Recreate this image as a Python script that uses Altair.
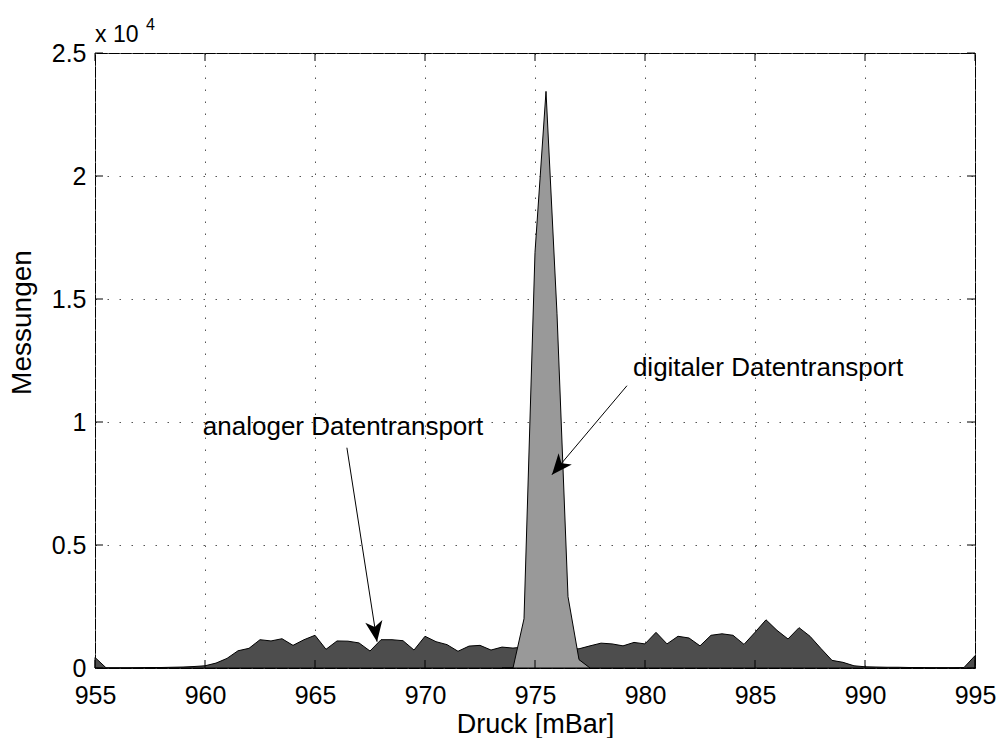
import altair as alt
import pandas as pd

FONT = "Liberation Sans"

# ---- data ----
analog_start = 955.0
analog_step = 0.5
analog_counts = [
    430, 10, 10, 10, 15, 20, 20, 30, 40, 60,          # 955.0 - 959.5
    90, 200, 390, 700, 800, 1150, 1100, 1190, 920, 1150,  # 960.0 - 964.5
    1330, 760, 1100, 1090, 1020, 690, 1150, 1150, 1110, 730,  # 965.0 - 969.5
    1290, 1070, 950, 680, 890, 920, 730, 850, 810, 850,   # 970.0 - 974.5
    850, 850, 800, 780, 780, 900, 1010, 980, 900, 1040,   # 975.0 - 979.5
    980, 1450, 980, 1290, 1220, 900, 1330, 1390, 1330, 960,  # 980.0 - 984.5
    1450, 1960, 1530, 1180, 1640, 1290, 790, 310, 230, 90,  # 985.0 - 989.5
    50, 40, 30, 30, 20, 20, 15, 15, 15, 20,             # 990.0 - 994.5
    500,                                                # 995.0
]
analog_pressure = [analog_start + analog_step * i for i in range(len(analog_counts))]

digital_pressure = [973.5, 974.0, 974.5, 975.0, 975.5, 976.0, 976.5, 977.0, 977.5]
digital_counts = [0, 0, 2000, 16900, 23440, 14400, 2900, 340, 0]

x_ticks = [955, 960, 965, 970, 975, 980, 985, 990, 995]
y_ticks = [0, 5000, 10000, 15000, 20000, 25000]

annot_labels = ["analoger Datentransport", "digitaler Datentransport"]
annot_text_x = [959.9, 979.45]
annot_text_y = [9480, 11880]
arrow_x1 = [966.45, 979.18]
arrow_y1 = [8955, 11475]
arrow_x2 = [967.82, 975.77]
arrow_y2 = [1070, 7858]
arrow_angle = [351, 40]

W, H = 880, 615
TICK = 8

df_analog = pd.DataFrame({"p": analog_pressure, "n": analog_counts})
df_digital = pd.DataFrame({"p": digital_pressure, "n": digital_counts})
df_annot = pd.DataFrame({
    "label": annot_labels, "tx": annot_text_x, "ty": annot_text_y,
    "x1": arrow_x1, "y1": arrow_y1, "x2": arrow_x2, "y2": arrow_y2,
    "ang": arrow_angle,
})
df_xt = pd.DataFrame({"v": x_ticks})
df_yt = pd.DataFrame({"v": y_ticks})
df_exp = pd.DataFrame({"t": ["x 10"], "e": ["4"]})

xscale = alt.Scale(domain=[955, 995], nice=False, zero=False)
yscale = alt.Scale(domain=[0, 25000], nice=False, zero=False)

grid_kw = dict(grid=True, gridColor="#555555", gridWidth=1, gridDash=[1.5, 10.5])

x_main = alt.Axis(
    values=x_ticks, title="Druck [mBar]", ticks=False, domain=False,
    labelFontSize=25, labelPadding=15, labelFlush=False, labelOverlap=False,
    labelColor="black", labelFont=FONT,
    titleFontSize=27, titleFontWeight="normal", titleColor="black", titleFont=FONT,
    titleY=64, titleBaseline="alphabetic", **grid_kw,
)
y_main = alt.Axis(
    values=y_ticks, labelExpr="datum.value / 10000", title="Messungen",
    ticks=False, domain=False, labelFontSize=25, labelPadding=9,
    labelFlush=False, labelOverlap=False, labelColor="black", labelFont=FONT,
    titleFontSize=28, titleFontWeight="normal", titleColor="black", titleFont=FONT,
    titleAngle=270, titleX=-73, titleY=269, titleAlign="center", titleBaseline="middle",
    **grid_kw,
)

dark = alt.Chart(df_analog).mark_area(
    fill="#4d4d4d", stroke="black", strokeWidth=1, interpolate="linear"
).encode(
    x=alt.X("p:Q", scale=xscale, axis=x_main),
    y=alt.Y("n:Q", scale=yscale, axis=y_main),
)

light = alt.Chart(df_digital).mark_area(
    fill="#999999", stroke="black", strokeWidth=1, interpolate="linear"
).encode(
    x=alt.X("p:Q", scale=xscale),
    y=alt.Y("n:Q", scale=yscale),
)

# inward tick marks on all four sides of the box
xt_bottom = alt.Chart(df_xt).mark_rule(color="black", strokeWidth=1).encode(
    x=alt.X("v:Q", scale=xscale), y=alt.value(H), y2=alt.value(H - TICK))
xt_top = alt.Chart(df_xt).mark_rule(color="black", strokeWidth=1).encode(
    x=alt.X("v:Q", scale=xscale), y=alt.value(0), y2=alt.value(TICK))
yt_left = alt.Chart(df_yt).mark_rule(color="black", strokeWidth=1).encode(
    y=alt.Y("v:Q", scale=yscale), x=alt.value(0), x2=alt.value(TICK))
yt_right = alt.Chart(df_yt).mark_rule(color="black", strokeWidth=1).encode(
    y=alt.Y("v:Q", scale=yscale), x=alt.value(W), x2=alt.value(W - TICK))

arrows = alt.Chart(df_annot).mark_rule(color="black", strokeWidth=1).encode(
    x=alt.X("x1:Q", scale=xscale),
    y=alt.Y("y1:Q", scale=yscale),
    x2="x2:Q", y2="y2:Q",
)

heads = alt.Chart(df_annot).mark_point(
    shape="M0,0 L-0.42,-1 L0,-0.72 L0.42,-1 Z", size=1700, filled=True,
    color="black", opacity=1, strokeWidth=0,
).encode(
    x=alt.X("x2:Q", scale=xscale),
    y=alt.Y("y2:Q", scale=yscale),
    angle=alt.Angle("ang:Q", scale=None),
)

texts = alt.Chart(df_annot).mark_text(
    align="left", baseline="alphabetic", fontSize=26, font=FONT, color="black"
).encode(
    x=alt.X("tx:Q", scale=xscale),
    y=alt.Y("ty:Q", scale=yscale),
    text="label:N",
)

exp_base = alt.Chart(df_exp).mark_text(
    align="left", baseline="alphabetic", fontSize=23, font=FONT, color="black"
).encode(x=alt.value(0), y=alt.value(-11), text="t:N")
exp_sup = alt.Chart(df_exp).mark_text(
    align="left", baseline="alphabetic", fontSize=16, font=FONT, color="black"
).encode(x=alt.value(51), y=alt.value(-23), text="e:N")

chart = alt.layer(
    dark, light, xt_bottom, xt_top, yt_left, yt_right,
    arrows, heads, texts, exp_base, exp_sup,
).properties(
    width=W, height=H,
    autosize=alt.AutoSizeParams(type="none"),
    padding={"left": 95, "top": 53, "right": 22, "bottom": 70},
    background="white",
).configure_view(stroke="black", strokeWidth=1)

chart.save("out.html", embed_options={"renderer": "svg", "actions": False})
